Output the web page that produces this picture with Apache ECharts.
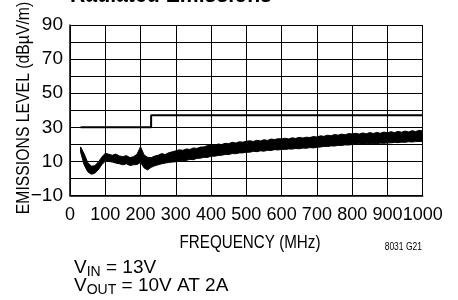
<!DOCTYPE html>
<html>
<head>
<meta charset="utf-8">
<script src="https://cdn.jsdelivr.net/npm/echarts@6/dist/echarts.min.js"></script>
<style>
  html, body { margin: 0; padding: 0; background: #fff; }
  #chart { width: 458px; height: 300px; }
</style>
</head>
<body>
<div id="chart"></div>
<script>
const FONT = "'Liberation Sans', Arial, sans-serif"

// frequency points of the measured trace (MHz)
const freqs = [
  30, 40, 50, 60, 70, 80, 90, 100, 110, 120, 130, 140, 150, 160, 170, 180, 190, 200,
  210, 220, 230, 240, 250, 260, 270, 280, 290, 300, 310, 320, 330, 340, 350, 360,
  370, 380, 390, 400, 410, 420, 430, 440, 450, 460, 470, 480, 490, 500, 510, 520,
  530, 540, 550, 560, 570, 580, 590, 600, 610, 620, 630, 640, 650, 660, 670, 680,
  690, 700, 710, 720, 730, 740, 750, 760, 770, 780, 790, 800, 810, 820, 830, 840,
  850, 860, 870, 880, 890, 900, 910, 920, 930, 940, 950, 960, 970, 980, 990, 1000
]
// upper edge of the noisy emissions trace (dBµV/m)
const traceHigh = [
  18.5, 14.5, 9.5, 7.2, 7.5, 9.5, 12.5, 14.8, 14.2, 13.6, 14.3, 13.2, 12.8, 13.4, 12.2, 12.8, 14.2, 18.6,
  13.8, 12.4, 12.2, 13.1, 13.6, 14.6, 14.0, 15.1, 15.6, 16.2, 16.8, 16.5, 17.3, 17.0, 17.9, 17.6,
  18.4, 18.5, 19.3, 19.6, 19.5, 20.2, 19.9, 20.6, 20.4, 21.2, 20.8, 21.5, 21.3, 21.8, 22.1, 21.7,
  22.4, 22.0, 22.7, 22.3, 23.1, 22.8, 23.3, 23.2, 23.6, 23.2, 23.8, 23.5, 24.1, 23.7, 24.2, 24.0,
  24.6, 24.3, 25.0, 24.7, 25.4, 25.0, 25.8, 25.4, 26.0, 25.6, 26.3, 26.1, 26.5, 26.0, 26.7, 26.2,
  26.9, 26.4, 27.0, 26.5, 27.2, 26.8, 27.4, 26.9, 27.6, 27.1, 27.8, 27.3, 28.0, 27.5, 28.2, 27.9
]
// lower edge of the noisy emissions trace (dBµV/m)
const traceLow = [
  15.5, 8.0, 4.0, 2.5, 3.0, 5.0, 8.0, 10.2, 10.0, 9.6, 9.0, 8.6, 8.0, 8.6, 7.6, 8.0, 8.2, 9.4,
  6.2, 5.0, 6.5, 7.4, 8.0, 8.6, 9.0, 9.4, 9.6, 9.8, 10.2, 10.5, 10.6, 11.2, 11.0, 11.8,
  11.9, 12.4, 12.3, 13.1, 13.0, 13.5, 13.6, 14.1, 14.0, 14.6, 14.5, 15.0, 15.0, 15.4, 15.4, 15.9,
  15.7, 16.2, 16.0, 16.5, 16.4, 16.9, 16.7, 17.1, 17.0, 17.3, 17.2, 17.6, 17.4, 17.8, 17.7, 18.1,
  17.9, 18.3, 18.4, 18.8, 18.7, 19.1, 19.0, 19.4, 19.3, 19.7, 19.6, 19.9, 20.0, 20.3, 20.1, 20.4,
  20.2, 20.5, 20.4, 20.7, 20.6, 20.8, 20.9, 21.1, 21.0, 21.3, 21.2, 21.5, 21.4, 21.6, 21.7, 21.6
]
// limit line
const limitFreq = [30, 230, 230, 1000]
const limitLevel = [30, 30, 37, 37]

const yLabels = [-10, 10, 30, 50, 70, 90]

const chart = echarts.init(document.getElementById('chart'))

// noisy trace drawn as one filled polygon between the two edges
const renderBand = (params, api) => {
  if (params.dataIndex !== 0) return
  const pts = []
  for (let i = 0; i < freqs.length; i++) pts.push(api.coord([freqs[i], traceHigh[i]]))
  for (let i = freqs.length - 1; i >= 0; i--) pts.push(api.coord([freqs[i], traceLow[i]]))
  return {
    type: 'polygon',
    shape: { points: pts },
    style: { fill: '#000', stroke: '#000', lineWidth: 1 }
  }
}

const option = {
  animation: false,
  grid: { left: 70, right: 35.3, top: 25, bottom: 104.5, containLabel: false, outerBoundsMode: 'none' },
  xAxis: {
    type: 'value',
    min: 0,
    max: 1000,
    interval: 100,
    axisLine: { onZero: false, lineStyle: { color: '#000', width: 1.5 } },
    axisTick: { show: false },
    splitLine: { lineStyle: { color: '#000', width: 1 } },
    axisLabel: {
      color: '#000', fontFamily: FONT, fontSize: 18, margin: 11,
      hideOverlap: false, showMinLabel: true, showMaxLabel: true,
      formatter: v => String(v)
    }
  },
  yAxis: {
    type: 'value',
    min: -10,
    max: 90,
    interval: 10,
    axisLine: { show: true, onZero: false, lineStyle: { color: '#000', width: 1.5 } },
    axisTick: { show: false },
    splitLine: { lineStyle: { color: '#000', width: 1 } },
    axisLabel: {
      color: '#000', fontFamily: FONT, fontSize: 19, margin: 7,
      showMinLabel: true, showMaxLabel: true,
      formatter: v => yLabels.includes(v) ? (v < 0 ? '\u2212' + Math.abs(v) : String(v)) : ''
    }
  },
  graphic: [
    {
      type: 'text', x: 70, y: 8, scaleX: 0.85,
      style: { text: 'Radiated Emissions', font: 'bold 25px ' + FONT, fill: '#000', verticalAlign: 'bottom' }
    },
    {
      type: 'text', x: 24, y: 108, rotation: Math.PI / 2, scaleX: 0.83,
      style: {
        text: 'EMISSIONS LEVEL (dBµV/m)', font: '19px ' + FONT, fill: '#000',
        align: 'center', verticalAlign: 'middle'
      }
    },
    {
      type: 'text', x: 250, y: 243, scaleX: 0.8,
      style: { text: 'FREQUENCY (MHz)', font: '19px ' + FONT, fill: '#000', align: 'center', verticalAlign: 'middle' }
    },
    {
      type: 'text', x: 422, y: 247, scaleX: 0.85,
      style: { text: '8031 G21', font: '10px ' + FONT, fill: '#000', align: 'right', verticalAlign: 'middle' }
    },
    {
      type: 'text', x: 74, y: 258,
      style: {
        text: '{v|V}{s|IN}{v| = 13V}\n{v|V}{s|OUT}{v| = 10V AT 2A}',
        fill: '#000',
        rich: {
          v: { fontFamily: FONT, fontSize: 19, lineHeight: 18, verticalAlign: 'top' },
          s: { fontFamily: FONT, fontSize: 14, lineHeight: 14, verticalAlign: 'top', padding: [7, 0, 0, 0] }
        }
      }
    }
  ],
  series: [
    {
      type: 'line',
      data: limitFreq.map((f, i) => [f, limitLevel[i]]),
      symbol: 'none',
      lineStyle: { color: '#000', width: 2 },
      z: 3
    },
    {
      type: 'custom',
      data: freqs.map((f, i) => [f, traceLow[i], traceHigh[i]]),
      encode: { x: 0, y: [1, 2] },
      renderItem: renderBand,
      clip: true,
      z: 4
    }
  ]
}

chart.setOption(option)
</script>
</body>
</html>
